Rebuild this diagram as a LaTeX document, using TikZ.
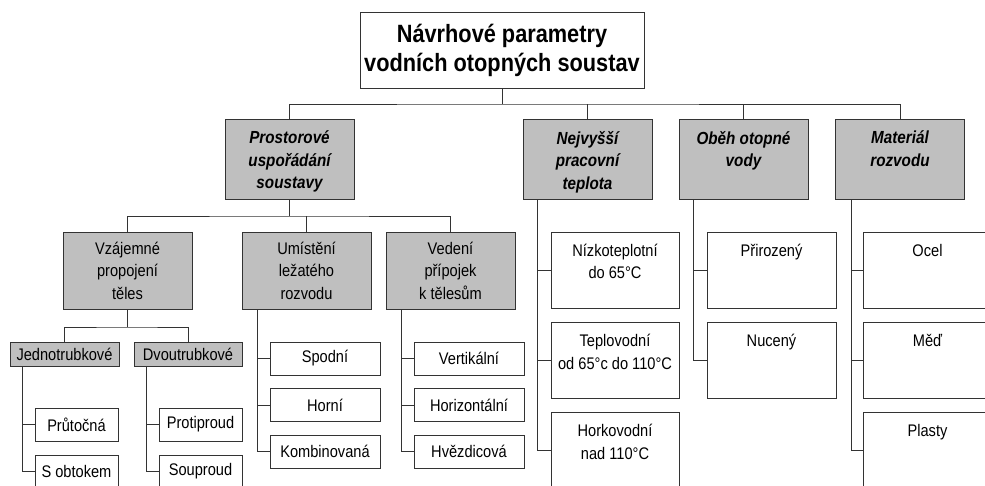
\documentclass[tikz,border=0pt]{standalone}
\usepackage{fontspec}
\setmainfont{Liberation Sans}[FakeStretch=0.87]
\newcommand\fsroot{\fontsize{25}{29}\selectfont\bfseries}
\newcommand\fsit{\fontsize{17.5}{22.5}\selectfont\bfseries\itshape}
\newcommand\fsreg{\fontsize{16.8}{22.5}\selectfont}
\newcommand\tbx[2]{\parbox[c][#1][t]{125pt}{\centering #2}}
\tikzset{
  ln/.style={draw=black!80, line width=1pt},
  bx/.style={draw=black!80, line width=1pt, rectangle, inner sep=0pt, align=center, font=\fsreg},
  gbx/.style={bx, fill=black!25},
  lvone/.style={gbx, font=\fsit, minimum width=129, minimum height=80},
  lvtwo/.style={gbx, minimum width=129, minimum height=77},
  tall/.style={bx, minimum width=128, minimum height=76},
  small/.style={bx, minimum height=33},
}
\begin{document}
\begin{tikzpicture}[x=1pt,y=-1pt]
\useasboundingbox (0,0) rectangle (985,485);
\clip (0,0) rectangle (985,485);
% root
\node[bx, font=\fsroot, minimum width=284, minimum height=76] (root) at (502,50) {Návrhové parametry\\vodních otopných soustav};
% level 1
\node[lvone] (P) at (289.5,159) {\tbx{56pt}{Prostorové\\uspořádání\\soustavy}};
\node[lvone] (N) at (587.5,159) {\tbx{56pt}{Nejvyšší\\pracovní\\teplota}};
\node[lvone] (O) at (743.5,159) {\tbx{56pt}{Oběh otopné\\vody}};
\node[lvone] (M) at (900,159) {\tbx{56pt}{Materiál\\rozvodu}};
\coordinate (b1) at (502,104);
\draw[ln] (root.south) -- (b1);
\draw[ln] (P.north) |- (b1) -| (M.north);
\draw[ln] (N.north) -- (N.north |- b1);
\draw[ln] (O.north) -- (O.north |- b1);
% level 2 under P
\node[lvtwo] (Vz) at (127.5,270.5) {Vzájemné\\propojení\\těles};
\node[lvtwo] (Um) at (306.5,270.5) {Umístění\\ležatého\\rozvodu};
\node[lvtwo] (Ve) at (450.5,270.5) {Vedení\\přípojek\\k tělesům};
\coordinate (b2) at (289.5,216);
\draw[ln] (P.south) -- (b2);
\draw[ln] (Vz.north) |- (b2) -| (Ve.north);
\draw[ln] (Um.north) -- (Um.north |- b2);
% level 3 under Vz
\node[gbx, minimum width=109, minimum height=24] (J) at (64.5,354) {Jednotrubkové};
\node[gbx, minimum width=108, minimum height=24] (D) at (188,354) {Dvoutrubkové};
\coordinate (b3) at (127.5,327);
\draw[ln] (Vz.south) -- (b3);
\draw[ln] (J.north) |- (b3) -| (D.north);
% leaves under J and D
\node[small, minimum width=83] (j1) at (76.5,424.5) {Průtočná};
\node[small, minimum width=83] (j2) at (76.5,471.5) {S obtokem};
\node[small, minimum width=83] (d1) at (200.5,424.5) {Protiproud};
\node[small, minimum width=83] (d2) at (200.5,471.5) {Souproud};
\draw[ln] ([xshift=13]J.south west) |- (j2.west);
\draw[ln] ([xshift=13]J.south west) |- (j1.west);
\draw[ln] ([xshift=13]D.south west) |- (d2.west);
\draw[ln] ([xshift=13]D.south west) |- (d1.west);
% leaves under Um
\node[small, minimum width=110] (u1) at (325,358.5) {Spodní};
\node[small, minimum width=110] (u2) at (325,405) {Horní};
\node[small, minimum width=110] (u3) at (325,451.5) {Kombinovaná};
\draw[ln] ([xshift=16]Um.south west) |- (u3.west);
\draw[ln] ([xshift=16]Um.south west) |- (u2.west);
\draw[ln] ([xshift=16]Um.south west) |- (u1.west);
% leaves under Ve
\node[small, minimum width=110] (v1) at (469,358.5) {Vertikální};
\node[small, minimum width=110] (v2) at (469,405) {Horizontální};
\node[small, minimum width=110] (v3) at (469,451.5) {Hvězdicová};
\draw[ln] ([xshift=16]Ve.south west) |- (v3.west);
\draw[ln] ([xshift=16]Ve.south west) |- (v2.west);
\draw[ln] ([xshift=16]Ve.south west) |- (v1.west);
% leaves under N
\node[tall] (n1) at (615,270) {\tbx{52pt}{Nízkoteplotní\\do 65°C}};
\node[tall] (n2) at (615,360.5) {\tbx{52pt}{Teplovodní\\od 65°c do 110°C}};
\node[tall] (n3) at (615,450.5) {\tbx{52pt}{Horkovodní\\nad 110°C}};
\draw[ln] ([xshift=15]N.south west) |- (n3.west);
\draw[ln] ([xshift=15]N.south west) |- (n2.west);
\draw[ln] ([xshift=15]N.south west) |- (n1.west);
% leaves under O
\node[tall, minimum width=129] (o1) at (771.5,270) {\tbx{52pt}{Přirozený}};
\node[tall, minimum width=129] (o2) at (771.5,360.5) {\tbx{52pt}{Nucený}};
\draw[ln] ([xshift=15]O.south west) |- (o2.west);
\draw[ln] ([xshift=15]O.south west) |- (o1.west);
% leaves under M
\node[tall, minimum width=129] (m1) at (927.5,270) {\tbx{52pt}{Ocel}};
\node[tall, minimum width=129] (m2) at (927.5,360.5) {\tbx{52pt}{Měď}};
\node[tall, minimum width=129] (m3) at (927.5,450.5) {\tbx{52pt}{Plasty}};
\draw[ln] ([xshift=16]M.south west) |- (m3.west);
\draw[ln] ([xshift=16]M.south west) |- (m2.west);
\draw[ln] ([xshift=16]M.south west) |- (m1.west);
\end{tikzpicture}
\end{document}
